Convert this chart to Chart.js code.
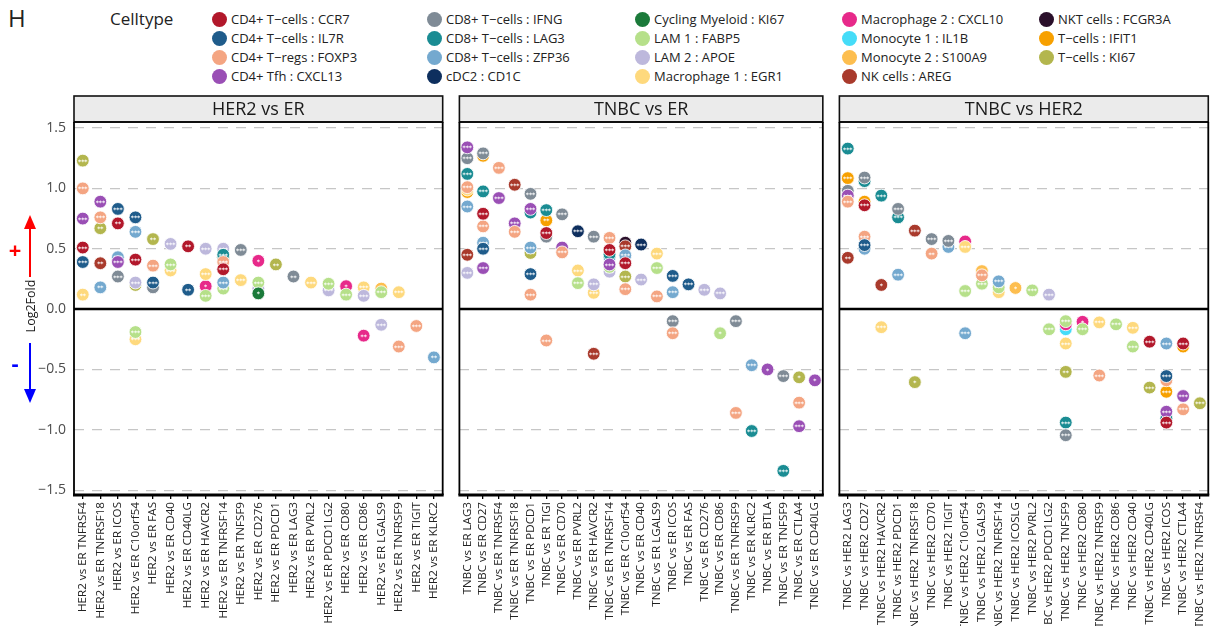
<!DOCTYPE html>
<html><head><meta charset="utf-8">
<script src="https://cdn.jsdelivr.net/npm/chart.js@4.4.1/dist/chart.umd.min.js"></script>
<style>
html,body{margin:0;padding:0;background:#fff;width:1217px;height:626px;overflow:hidden;font-family:'Open Sans',sans-serif;}
.abs{position:absolute;}
#p1{left:0;top:95px;width:451px;height:531px}
#p2{left:452px;top:95px;width:380px;height:531px}
#p3{left:832px;top:95px;width:385px;height:531px}
.leg-txt{position:absolute;font-size:13px;color:#222;white-space:nowrap;line-height:16px}
.leg-dot{position:absolute;width:15px;height:15px;border-radius:50%}
</style></head><body>
<div class="abs" style="left:8px;top:4px;font-size:24px;line-height:28px;color:#222">H</div>
<div class="abs" style="left:110px;top:8px;font-size:17px;line-height:22px;color:#222">Celltype</div>
<div id="legend"></div>
<div class="abs" id="p1"><canvas id="c1"></canvas></div>
<div class="abs" id="p2"><canvas id="c2"></canvas></div>
<div class="abs" id="p3"><canvas id="c3"></canvas></div>
<script>
// ---- categories / series ----
const cellTypes = ['CD4+ T\u2212cells : CCR7','CD4+ T\u2212cells : IL7R','CD4+ T\u2212regs : FOXP3','CD4+ Tfh : CXCL13',
  'CD8+ T\u2212cells : IFNG','CD8+ T\u2212cells : LAG3','CD8+ T\u2212cells : ZFP36','cDC2 : CD1C',
  'Cycling Myeloid : KI67','LAM 1 : FABP5','LAM 2 : APOE','Macrophage 1 : EGR1',
  'Macrophage 2 : CXCL10','Monocyte 1 : IL1B','Monocyte 2 : S100A9','NK cells : AREG',
  'NKT cells : FCGR3A','T\u2212cells : IFIT1','T\u2212cells : KI67'];
const cellColors = ['#B2182B','#1F5C8B','#F4A582','#9A4FB5','#7F8B96','#1A8C93','#74A9CF','#0E2F5E',
  '#1B7A3A','#B6E08A','#BDB8DC','#FED97D','#E7298A','#45DCF8','#FDBE4F','#A93A2C','#2A0F2A','#F7A000','#B3B64E'];
const panelTitles = ['HER2 vs ER','TNBC vs ER','TNBC vs HER2'];
const yTicks = [-1.5,-1,-0.5,0,0.5,1,1.5];

const her2VsErGenes = ['TNFRSF4','TNFRSF18','ICOS','C10orf54','FAS','CD40','CD40LG','HAVCR2','TNFRSF14','TNFSF9',
  'CD276','PDCD1','LAG3','PVRL2','PDCD1LG2','CD80','CD86','LGALS9','TNFRSF9','TIGIT','KLRC2'];
const tnbcVsErGenes = ['LAG3','CD27','TNFRSF4','TNFRSF18','PDCD1','TIGI','CD70','PVRL2','HAVCR2','TNFRSF14','C10orf54',
  'CD40','LGALS9','ICOS','FAS','CD276','CD86','TNFRSF9','KLRC2','BTLA','TNFSF9','CTLA4','CD40LG'];
const tnbcVsHer2Genes = ['LAG3','CD27','HAVCR2','PDCD1','TNFRSF18','CD70','TIGIT','C10orf54','LGALS9','TNFRSF14','ICOSLG',
  'PVRL2','PDCD1LG2','TNFSF9','CD80','TNFRSF9','CD86','CD40','CD40LG','ICOS','CTLA4','TNFRSF4'];

// [gene, celltype index, log2 fold change, significance]
const her2VsErPoints = [
  ['TNFRSF4',18,1.23],['TNFRSF4',2,1.0],['TNFRSF4',3,0.75],['TNFRSF4',0,0.51],['TNFRSF4',1,0.39],['TNFRSF4',11,0.12,'**'],
  ['TNFRSF18',3,0.89],['TNFRSF18',2,0.76],['TNFRSF18',18,0.67,'**'],['TNFRSF18',15,0.38,'**'],['TNFRSF18',6,0.18,'**'],
  ['ICOS',1,0.83],['ICOS',0,0.71,'**'],['ICOS',6,0.43],['ICOS',3,0.39],['ICOS',4,0.27],
  ['C10orf54',1,0.76],['C10orf54',6,0.64],['C10orf54',0,0.41],['C10orf54',10,0.22],['C10orf54',18,0.20],['C10orf54',9,-0.19],['C10orf54',11,-0.25],
  ['FAS',18,0.58,'**'],['FAS',2,0.36],['FAS',1,0.22],['FAS',4,0.18],
  ['CD40',10,0.54],['CD40',9,0.37],['CD40',11,0.32],
  ['CD40LG',0,0.52,'**'],['CD40LG',1,0.16,'**'],
  ['HAVCR2',10,0.50],['HAVCR2',11,0.29],['HAVCR2',12,0.19,'*'],['HAVCR2',9,0.11],
  ['TNFRSF14',10,0.50],['TNFRSF14',5,0.45],['TNFRSF14',8,0.43],['TNFRSF14',2,0.39],['TNFRSF14',0,0.33],['TNFRSF14',6,0.22],['TNFRSF14',9,0.17],
  ['TNFSF9',4,0.49],['TNFSF9',11,0.24],
  ['CD276',12,0.40,'*'],['CD276',9,0.22],['CD276',10,0.17],['CD276',8,0.13,'*'],
  ['PDCD1',18,0.37,'**'],
  ['LAG3',4,0.27,'**'],
  ['PVRL2',11,0.22],
  ['PDCD1LG2',9,0.21],['PDCD1LG2',10,0.155],
  ['CD80',12,0.19,'*'],['CD80',9,0.12],
  ['CD86',11,0.18],['CD86',10,0.11],['CD86',12,-0.22,'**'],
  ['LGALS9',14,0.17],['LGALS9',9,0.14],['LGALS9',10,-0.13],
  ['TNFRSF9',11,0.14],['TNFRSF9',2,-0.31],
  ['TIGIT',2,-0.14],
  ['KLRC2',6,-0.40,'**']
];
const tnbcVsErPoints = [
  ['LAG3',3,1.34],['LAG3',4,1.25],['LAG3',5,1.12],['LAG3',2,1.01],['LAG3',11,0.99],['LAG3',17,0.97],['LAG3',6,0.85],['LAG3',15,0.45],['LAG3',10,0.30],
  ['CD27',4,1.29],['CD27',17,1.27],['CD27',5,0.975],['CD27',0,0.79],['CD27',2,0.685],['CD27',6,0.55],['CD27',1,0.50],['CD27',3,0.34],
  ['TNFRSF4',2,1.17],['TNFRSF4',3,0.92],
  ['TNFRSF18',15,1.03],['TNFRSF18',3,0.71],['TNFRSF18',2,0.64],
  ['PDCD1',4,0.955],['PDCD1',3,0.83],['PDCD1',5,0.80],['PDCD1',6,0.51],['PDCD1',18,0.465],['PDCD1',1,0.29],['PDCD1',2,0.12],
  ['TIGI',5,0.82],['TIGI',17,0.735,'**'],['TIGI',0,0.63],['TIGI',4,0.60],['TIGI',2,-0.26],
  ['CD70',4,0.785],['CD70',3,0.51],['CD70',2,0.47],
  ['PVRL2',7,0.645],['PVRL2',11,0.32],['PVRL2',9,0.215],
  ['HAVCR2',4,0.60],['HAVCR2',10,0.205],['HAVCR2',11,0.135],['HAVCR2',15,-0.37],
  ['TNFRSF14',2,0.59],['TNFRSF14',0,0.49],['TNFRSF14',5,0.455],['TNFRSF14',6,0.43],['TNFRSF14',3,0.37],['TNFRSF14',9,0.35],['TNFRSF14',10,0.31],
  ['C10orf54',16,0.55],['C10orf54',15,0.52],['C10orf54',6,0.445],['C10orf54',0,0.38],['C10orf54',18,0.27],['C10orf54',2,0.165],
  ['CD40',7,0.535],['CD40',10,0.245],
  ['LGALS9',11,0.46],['LGALS9',9,0.34],['LGALS9',2,0.105],
  ['ICOS',1,0.275],['ICOS',6,0.14],['ICOS',4,-0.10],['ICOS',2,-0.20],
  ['FAS',1,0.205],
  ['CD276',10,0.16],
  ['CD86',10,0.13],['CD86',9,-0.20,'*'],
  ['TNFRSF9',4,-0.10],['TNFRSF9',2,-0.86],
  ['KLRC2',6,-0.465],['KLRC2',5,-1.01],
  ['BTLA',3,-0.50,'*'],
  ['TNFSF9',4,-0.555],['TNFSF9',5,-1.34],
  ['CTLA4',18,-0.565,'*'],['CTLA4',2,-0.775],['CTLA4',3,-0.97],
  ['CD40LG',3,-0.59,'*']
];
const tnbcVsHer2Points = [
  ['LAG3',5,1.33],['LAG3',17,1.085],['LAG3',4,0.98],['LAG3',3,0.94],['LAG3',10,0.92],['LAG3',2,0.89],['LAG3',15,0.425,'**'],
  ['CD27',4,1.09],['CD27',5,1.06],['CD27',17,0.89],['CD27',0,0.86],['CD27',2,0.60],['CD27',1,0.53],['CD27',6,0.50],
  ['HAVCR2',5,0.94],['HAVCR2',15,0.20,'*'],['HAVCR2',11,-0.15],
  ['PDCD1',4,0.83],['PDCD1',5,0.76],['PDCD1',6,0.285],
  ['TNFRSF18',15,0.65],['TNFRSF18',18,-0.605,'*'],
  ['CD70',4,0.58],['CD70',2,0.46,'**'],
  ['TIGIT',4,0.565],['TIGIT',6,0.515],
  ['C10orf54',12,0.56,'*'],['C10orf54',11,0.515],['C10orf54',9,0.15],['C10orf54',6,-0.20],
  ['LGALS9',14,0.315],['LGALS9',2,0.28],['LGALS9',9,0.21],
  ['TNFRSF14',6,0.23],['TNFRSF14',9,0.18],['TNFRSF14',11,0.14],
  ['ICOSLG',14,0.175,'*'],
  ['PVRL2',9,0.155],
  ['PDCD1LG2',10,0.12],['PDCD1LG2',9,-0.167],
  ['TNFSF9',9,-0.10],['TNFSF9',12,-0.126],['TNFSF9',13,-0.167],['TNFSF9',11,-0.285],['TNFSF9',18,-0.52,'**'],['TNFSF9',5,-0.94],['TNFSF9',4,-1.045],
  ['CD80',12,-0.105,'*'],['CD80',9,-0.167],
  ['TNFRSF9',11,-0.11],['TNFRSF9',2,-0.55],
  ['CD86',9,-0.126],
  ['CD40',11,-0.155],['CD40',9,-0.31],
  ['CD40LG',0,-0.27],['CD40LG',18,-0.65],
  ['ICOS',6,-0.285],['ICOS',1,-0.555],['ICOS',2,-0.59],['ICOS',17,-0.685],['ICOS',3,-0.85],['ICOS',5,-0.905],['ICOS',0,-0.94],
  ['CTLA4',0,-0.285],['CTLA4',17,-0.31,'*'],['CTLA4',3,-0.72],['CTLA4',2,-0.83],
  ['TNFRSF4',18,-0.78]
];

// ---- legend (HTML) ----
(function(){
  const leg = document.getElementById('legend');
  const colX = [219,434,642,849,1046];
  const rowY = [19,38,57,76];
  cellTypes.forEach((name,i)=>{
    const c = Math.floor(i/4), r = i%4;
    const d = document.createElement('div');
    d.className='leg-dot';
    d.style.left=(colX[c]-7.5)+'px'; d.style.top=(rowY[r]-7.5)+'px'; d.style.background=cellColors[i];
    leg.appendChild(d);
    const t = document.createElement('div');
    t.className='leg-txt'; t.textContent=name;
    t.style.left=(colX[c]+12)+'px'; t.style.top=(rowY[r]-8)+'px';
    leg.appendChild(t);
  });
})();

// ---- charts ----
const FONT = "'Open Sans', sans-serif";
function buildDatasets(prefix, points){
  return cellTypes.map((name,ci)=>({
    label:name,
    data: points.filter(p=>p[1]===ci).map(p=>({x:prefix+p[0], y:p[2], s:p[3]||'***'})),
    backgroundColor: cellColors[ci],
    borderColor:'rgba(255,255,255,0.85)', borderWidth:1,
    pointRadius:6.4, pointHoverRadius:6.4
  }));
}
const panelPlugin = {
  id:'panel',
  beforeDatasetsDraw(chart){
    const {ctx, chartArea:a} = chart;
    const y0 = chart.scales.y.getPixelForValue(0);
    ctx.save();
    ctx.strokeStyle='#000'; ctx.lineWidth=2.5;
    ctx.beginPath(); ctx.moveTo(a.left,y0); ctx.lineTo(a.right,y0); ctx.stroke();
    ctx.restore();
  },
  afterDatasetDraw(chart,args){
    const ctx = chart.ctx;
    const ds = chart.data.datasets[args.index];
    ctx.save();
    ctx.fillStyle='#fff'; ctx.font="bold 6px 'DejaVu Sans', sans-serif";
    ctx.textAlign='center'; ctx.textBaseline='middle';
    args.meta.data.forEach((el,i)=>{ ctx.fillText(ds.data[i].s, el.x, el.y+1.5); });
    ctx.restore();
  },
  afterDraw(chart){
    const {ctx, chartArea:a} = chart;
    const o = chart.options.plugins.panel;
    ctx.save();
    // strip
    ctx.fillStyle='#EBEBEB';
    ctx.fillRect(a.left, 1, a.right-a.left, a.top-1);
    ctx.strokeStyle='#111'; ctx.lineWidth=1.6;
    ctx.strokeRect(a.left, 1, a.right-a.left, a.top-1);
    ctx.fillStyle='#1a1a1a'; ctx.font="18px "+FONT; ctx.textAlign='center'; ctx.textBaseline='middle';
    ctx.fillText(o.title, (a.left+a.right)/2, a.top/2+1);
    // frame
    ctx.strokeStyle='#000'; ctx.lineWidth=1.8;
    ctx.beginPath(); ctx.moveTo(a.left,a.top); ctx.lineTo(a.left,a.bottom); ctx.moveTo(a.right,a.top); ctx.lineTo(a.right,a.bottom); ctx.stroke();
    ctx.lineWidth=3;
    ctx.beginPath(); ctx.moveTo(a.left-1,a.bottom); ctx.lineTo(a.right+1,a.bottom); ctx.stroke();
    ctx.lineWidth=1.6;
    ctx.beginPath(); ctx.moveTo(a.left,a.top); ctx.lineTo(a.right,a.top); ctx.stroke();
    if (o.annot){
      // y-axis direction annotation
      ctx.strokeStyle='#FF0000'; ctx.fillStyle='#FF0000'; ctx.lineWidth=2;
      ctx.beginPath(); ctx.moveTo(30,182); ctx.lineTo(30,131); ctx.stroke();
      ctx.beginPath(); ctx.moveTo(30,120); ctx.lineTo(24,134); ctx.lineTo(36,134); ctx.closePath(); ctx.fill();
      ctx.font="bold 22px "+FONT; ctx.textAlign='center'; ctx.textBaseline='middle';
      ctx.fillText('+', 15, 157);
      ctx.strokeStyle='#0000FF'; ctx.fillStyle='#0000FF';
      ctx.beginPath(); ctx.moveTo(30,248); ctx.lineTo(30,297); ctx.stroke();
      ctx.beginPath(); ctx.moveTo(30,308); ctx.lineTo(24,294); ctx.lineTo(36,294); ctx.closePath(); ctx.fill();
      ctx.fillText('-', 15, 270);
      ctx.save();
      ctx.translate(31,211); ctx.rotate(-Math.PI/2);
      ctx.fillStyle='#1a1a1a'; ctx.font="12.5px "+FONT; ctx.textAlign='center'; ctx.textBaseline='middle';
      ctx.fillText('Log2Fold',0,0);
      ctx.restore();
    }
    ctx.restore();
  }
};
function fmt(v){ return (v<0?'\u2212':'') + Math.abs(v).toFixed(1); }
function makeChart(id, title, genes, points, showY, pad){
  const prefix = title+' ';
  const labels = genes.map(g=>prefix+g);
  return new Chart(document.getElementById(id), {
    type:'scatter',
    data:{ labels, datasets: buildDatasets(prefix, points) },
    plugins:[panelPlugin],
    options:{
      responsive:true, maintainAspectRatio:false, animation:false,
      layout:{ padding:pad },
      plugins:{ legend:{display:false}, tooltip:{enabled:false}, panel:{title, annot:showY} },
      scales:{
        x:{ type:'category', labels, offset:true,
          afterFit(s){ s.height=131; },
          grid:{ drawOnChartArea:false, drawTicks:true, tickLength:4, color:'#000', lineWidth:1.3, offset:false },
          border:{ display:false },
          ticks:{ autoSkip:false, maxRotation:90, minRotation:90, padding:3, color:'#222', font:{size:11.6, family:FONT} } },
        y:{ type:'linear', min:-1.54, max:1.55,
          afterBuildTicks(s){ s.ticks = yTicks.map(v=>({value:v})); },
          afterFit(s){ s.width = showY ? 74 : 0; },
          grid:{ drawTicks:false, lineWidth:1.3, color:(c)=> (c.tick && c.tick.value===0) ? 'rgba(0,0,0,0)' : '#C6C6C6' },
          border:{ display:false, dash:[10,8] },
          ticks:{ display:showY, padding:8, color:'#4d4d4d', font:{size:14, family:FONT}, callback:(v)=>fmt(v) } }
      }
    }
  });
}
makeChart('c1', panelTitles[0], her2VsErGenes, her2VsErPoints, true, {top:27,left:0,right:2,bottom:0});
makeChart('c2', panelTitles[1], tnbcVsErGenes, tnbcVsErPoints, false, {top:27,left:2,right:3,bottom:0});
makeChart('c3', panelTitles[2], tnbcVsHer2Genes, tnbcVsHer2Points, false, {top:27,left:2,right:8,bottom:0});
</script>
</body></html>
